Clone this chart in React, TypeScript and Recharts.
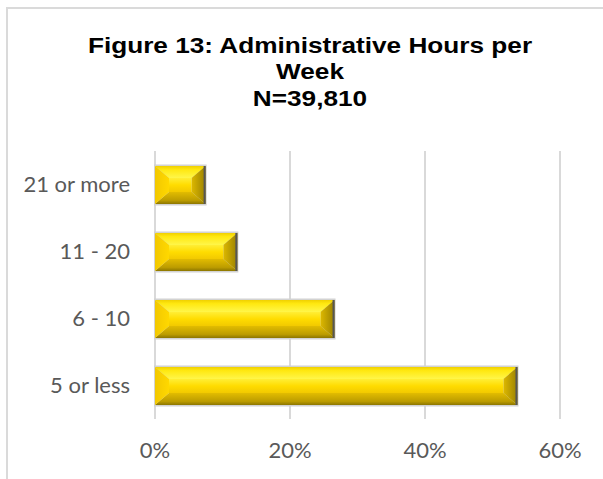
import React from 'react';
import { BarChart, Bar, XAxis, YAxis, CartesianGrid } from 'recharts';

// values
const categories = ['21 or more', '11 - 20', '6 - 10', '5 or less'];
const shares = [7.5, 12.2, 26.6, 53.7];
const xTicks = [0, 20, 40, 60];
const titleLines = ['Figure 13: Administrative Hours per', 'Week', 'N=39,810'];

const data = categories.map((label, i) => ({ label, share: shares[i] }));

// yellow bar with an Excel-like bevel
const BevelBar = (props: any) => {
  const { x, y, width, height, index } = props;
  if (!width || width <= 0) return null;
  const dx = Math.min(14, width / 2);
  const dy = Math.min(12, height / 2);
  const id = `bev${index}`;
  const r = x + width;
  const b = y + height;
  return (
    <g>
      <defs>
        <linearGradient id={`${id}-top`} x1="0" y1="0" x2="0" y2="1">
          <stop offset="0%" stopColor="#F0D000" />
          <stop offset="30%" stopColor="#FFE810" />
          <stop offset="100%" stopColor="#FFF64A" />
        </linearGradient>
        <linearGradient id={`${id}-mid`} x1="0" y1="0" x2="0" y2="1">
          <stop offset="0%" stopColor="#FFEE35" />
          <stop offset="50%" stopColor="#FFDC00" />
          <stop offset="100%" stopColor="#F2C900" />
        </linearGradient>
        <linearGradient id={`${id}-bot`} x1="0" y1="0" x2="0" y2="1">
          <stop offset="0%" stopColor="#E2BC00" />
          <stop offset="70%" stopColor="#BC9C00" />
          <stop offset="100%" stopColor="#8C7600" />
        </linearGradient>
        <linearGradient id={`${id}-left`} x1="0" y1="0" x2="1" y2="0">
          <stop offset="0%" stopColor="#F2C800" />
          <stop offset="100%" stopColor="#FFD800" />
        </linearGradient>
        <linearGradient id={`${id}-right`} x1="0" y1="0" x2="1" y2="0">
          <stop offset="0%" stopColor="#DDB800" />
          <stop offset="100%" stopColor="#9A8100" />
        </linearGradient>
      </defs>
      <rect x={x - 1} y={y - 1.5} width={width + 2} height={height + 3} fill="#d2d2d2" />
      <polygon points={`${x},${y} ${r},${y} ${r - dx},${y + dy} ${x + dx},${y + dy}`} fill={`url(#${id}-top)`} />
      <polygon points={`${x},${b} ${r},${b} ${r - dx},${b - dy} ${x + dx},${b - dy}`} fill={`url(#${id}-bot)`} />
      <polygon points={`${x},${y} ${x + dx},${y + dy} ${x + dx},${b - dy} ${x},${b}`} fill={`url(#${id}-left)`} />
      <polygon points={`${r},${y} ${r - dx},${y + dy} ${r - dx},${b - dy} ${r},${b}`} fill={`url(#${id}-right)`} />
      <rect x={x + dx} y={y + dy} width={Math.max(0, width - 2 * dx)} height={Math.max(0, height - 2 * dy)} fill={`url(#${id}-mid)`} />
      <rect x={r - 2} y={y} width={2} height={height} fill="#555555" />
    </g>
  );
};

export default function App() {
  return (
    <div style={{ position: 'absolute', left: 0, top: 0, width: 603, height: 479, overflow: 'hidden', background: '#fff' }}>
      <div
        style={{
          position: 'absolute',
          left: 6,
          top: 7,
          width: 700,
          height: 600,
          border: '2px solid #dadada',
        }}
      />
      <div
        style={{
          position: 'absolute',
          left: 10,
          top: 33,
          width: 600,
          textAlign: 'center',
          fontFamily: '"Liberation Sans", Arial, sans-serif',
          fontWeight: 'bold',
          fontSize: 22,
          lineHeight: '26.3px',
          color: '#000',
          transform: 'scaleX(1.19)',
          transformOrigin: 'center',
        }}
      >
        {titleLines.map((t) => (
          <div key={t}>{t}</div>
        ))}
      </div>
      <div style={{ position: 'absolute', left: 0, top: 0 }}>
        <BarChart
          width={603}
          height={479}
          data={data}
          layout="vertical"
          margin={{ top: 151, right: 43, bottom: 30, left: 0 }}
        >
          <CartesianGrid horizontal={false} stroke="#d9d9d9" strokeWidth={2} />
          <XAxis
            type="number"
            domain={[0, 60]}
            ticks={xTicks}
            tickFormatter={(v) => `${v}%`}
            axisLine={false}
            tickLine={false}
            tickSize={0}
            tickMargin={23}
            height={30}
            interval={0}
            tick={{ fill: '#595959', fontSize: 22, fontFamily: 'Lato, sans-serif' }}
          />
          <YAxis
            type="category"
            dataKey="label"
            width={155}
            axisLine={false}
            tickLine={false}
            tickSize={0}
            tickMargin={25}
            interval={0}
            tick={{ fill: '#595959', fontSize: 22, fontFamily: 'Lato, sans-serif' }}
          />
          <Bar dataKey="share" barSize={38} shape={<BevelBar />} isAnimationActive={false} />
        </BarChart>
      </div>
    </div>
  );
}
